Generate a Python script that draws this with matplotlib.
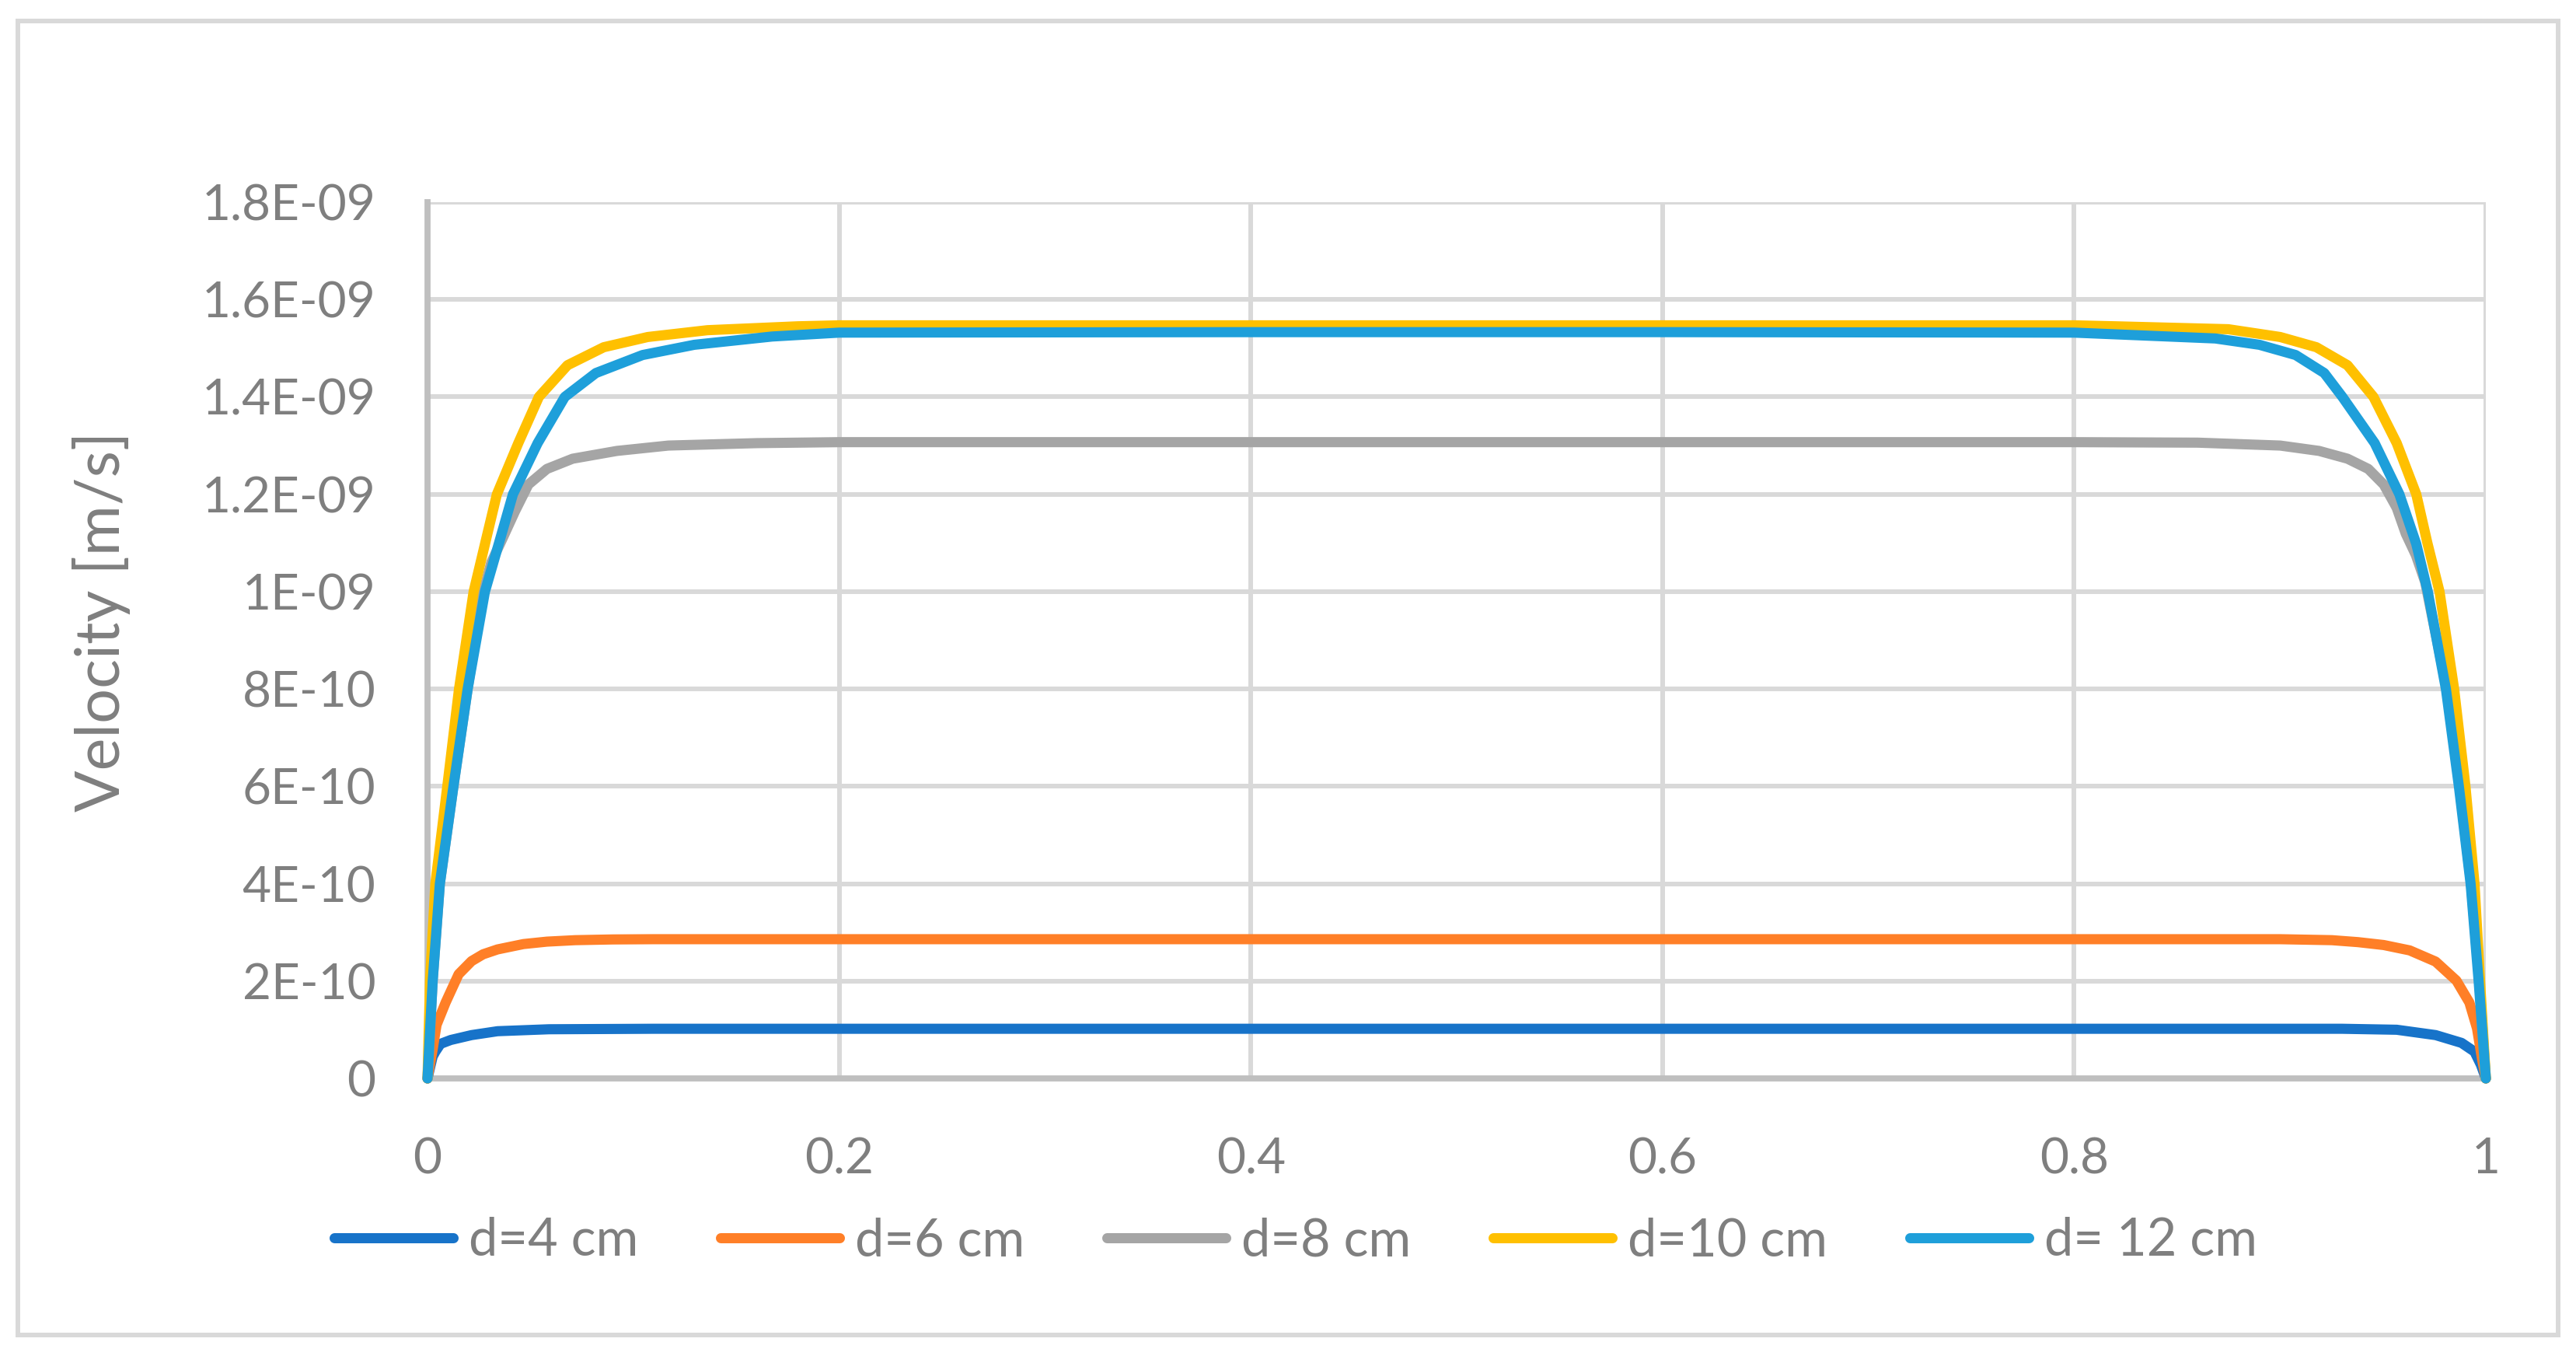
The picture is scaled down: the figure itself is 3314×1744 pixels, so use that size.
import matplotlib
matplotlib.use("Agg")
import matplotlib.pyplot as plt
from matplotlib.patches import Rectangle

# ---- data (velocity values in units of 1E-10 m/s) ----
x_d4 = [0, 0.0025, 0.0038, 0.0063, 0.0113, 0.0214, 0.034, 0.059, 0.11, 0.2, 0.4, 0.6, 0.8, 0.9, 0.93,
        0.9567, 0.9756, 0.9882, 0.9945, 0.9976, 1.0]
v_d4 = [0, 0.45, 0.55, 0.71, 0.79, 0.89, 0.97, 1.01, 1.02, 1.02, 1.02, 1.02, 1.02, 1.02, 1.02,
        1.0, 0.89, 0.73, 0.55, 0.28, 0]

x_d6 = [0, 0.0025, 0.0044, 0.0088, 0.0151, 0.0214, 0.027, 0.034, 0.0466, 0.058, 0.0718, 0.09, 0.11,
        0.2, 0.4, 0.6, 0.8, 0.9, 0.9252, 0.9378, 0.9504, 0.963, 0.9756, 0.9857, 0.992, 0.9957,
        0.9982, 1.0]
v_d6 = [0, 0.6, 1.1, 1.56, 2.14, 2.41, 2.55, 2.65, 2.76, 2.81, 2.84, 2.855, 2.86,
        2.86, 2.86, 2.86, 2.86, 2.86, 2.84, 2.80, 2.74, 2.63, 2.40, 2.01, 1.56, 1.03,
        0.39, 0]

x_d8 = [0, 0.0025, 0.006, 0.0126, 0.0195, 0.0265, 0.031, 0.036, 0.0425, 0.049, 0.058, 0.0705,
        0.092, 0.117, 0.16, 0.2, 0.4, 0.6, 0.8, 0.86, 0.9001, 0.919, 0.9328, 0.9429, 0.9504,
        0.9567, 0.9611, 0.966, 0.9705, 0.981, 0.9872, 0.9928, 0.9968, 1.0]
v_d8 = [0, 2.0, 4.0, 6.0, 8.0, 9.9, 10.6, 11.05, 11.65, 12.2, 12.52, 12.73,
        12.89, 13.0, 13.05, 13.07, 13.07, 13.07, 13.07, 13.06, 13.0, 12.89, 12.73, 12.52, 12.2,
        11.72, 11.19, 10.75, 10.2, 8.0, 6.0, 4.0, 2.0, 0]

x_d10 = [0, 0.0012, 0.0038, 0.0096, 0.0153, 0.0224, 0.0286, 0.0337, 0.0441, 0.0541, 0.068, 0.0856,
         0.107, 0.136, 0.18, 0.2, 0.4, 0.6, 0.8, 0.82, 0.8749, 0.9001, 0.9177, 0.9328, 0.9454,
         0.9567, 0.9662, 0.9716, 0.9775, 0.9846, 0.9901, 0.9945, 0.9972, 1.0]
v_d10 = [0, 2.0, 4.0, 6.0, 8.0, 10.0, 11.1, 12.0, 13.05, 14.0, 14.65, 15.02,
         15.23, 15.37, 15.45, 15.47, 15.47, 15.47, 15.47, 15.45, 15.39, 15.23, 15.02, 14.65, 14.0,
         13.05, 12.0, 11.0, 10.0, 8.0, 6.0, 4.0, 2.0, 0]

x_d12 = [0, 0.0025, 0.006, 0.0126, 0.0195, 0.0279, 0.0346, 0.0415, 0.0535, 0.0667, 0.0818, 0.1045,
         0.1296, 0.1674, 0.2, 0.4, 0.6, 0.8, 0.8686, 0.89, 0.9076, 0.9215, 0.9303, 0.946, 0.958,
         0.9662, 0.9718, 0.9806, 0.9869, 0.9926, 0.9965, 1.0]
v_d12 = [0, 2.0, 4.0, 6.0, 8.0, 10.0, 10.98, 12.0, 13.05, 14.0, 14.49, 14.86,
         15.07, 15.24, 15.32, 15.33, 15.33, 15.32, 15.2, 15.07, 14.86, 14.49, 14.0, 13.05, 12.0,
         10.98, 10.0, 8.0, 6.0, 4.0, 2.0, 0]

series_labels = ["d=4 cm", "d=6 cm", "d=8 cm", "d=10 cm", "d= 12 cm"]
series_colors = ["#1773C9", "#FF7F27", "#A5A5A5", "#FFC000", "#1E9FDA"]

x_ticks = [0, 0.2, 0.4, 0.6, 0.8, 1.0]
x_ticklabels = ["0", "0.2", "0.4", "0.6", "0.8", "1"]
y_ticks = [0, 2e-10, 4e-10, 6e-10, 8e-10, 1e-9, 1.2e-9, 1.4e-9, 1.6e-9, 1.8e-9]
y_ticklabels = ["0", "2E-10", "4E-10", "6E-10", "8E-10", "1E-09", "1.2E-09", "1.4E-09", "1.6E-09", "1.8E-09"]
y_label = "Velocity [m/s]"

# ---- figure ----
W, H = 3314, 1744
plt.rcParams['font.family'] = ['Lato', 'DejaVu Sans']
TXT = "#7F7F7F"
fig = plt.figure(figsize=(W / 100, H / 100), dpi=100)
ax = fig.add_axes([550 / W, 1 - 1387 / H, (3198 - 550) / W, (1387 - 260) / H])

xs = [x_d4, x_d6, x_d8, x_d10, x_d12]
vs = [v_d4, v_d6, v_d8, v_d10, v_d12]
for xx, vv, lab, col in zip(xs, vs, series_labels, series_colors):
    ax.plot(xx, [v * 1e-10 for v in vv], color=col, lw=9.4, label=lab,
            solid_capstyle='round', solid_joinstyle='round', zorder=3, clip_on=False)

ax.set_xlim(0, 1)
ax.set_ylim(0, 1.8e-9)
ax.set_xticks(x_ticks)
ax.set_xticklabels(x_ticklabels)
ax.set_yticks(y_ticks)
ax.set_yticklabels(y_ticklabels)
ax.tick_params(axis='both', length=0, labelsize=46, labelcolor=TXT)
ax.tick_params(axis='y', pad=48)
ax.tick_params(axis='x', pad=54)
ax.grid(True, color="#D9D9D9", lw=4.3)
ax.set_axisbelow(True)
for s in ['top', 'right']:
    ax.spines[s].set_visible(False)
for s in ['left', 'bottom']:
    ax.spines[s].set_color("#BFBFBF")
    ax.spines[s].set_linewidth(5.6)

fig.text(131 / W, 1 - 799 / H, y_label, rotation=90, ha='center', va='center',
         fontsize=57, color=TXT)

leg = fig.legend(loc='center', bbox_to_anchor=(0.503, 1 - 1596 / H), ncol=5, frameon=False,
                 fontsize=48, handlelength=2.3, handletextpad=0.3, columnspacing=1.58,
                 labelcolor=TXT)
for ln in leg.get_lines():
    ln.set_linewidth(9.4)
    ln.set_solid_capstyle('round')

fig.patches.append(Rectangle((23 / W, 1 - 1717 / H), (3291 - 23) / W, (1717 - 27) / H,
                             transform=fig.transFigure, fill=False, edgecolor="#D9D9D9",
                             lw=4.3, zorder=0))

fig.savefig("out.png", dpi=100, facecolor="white")
